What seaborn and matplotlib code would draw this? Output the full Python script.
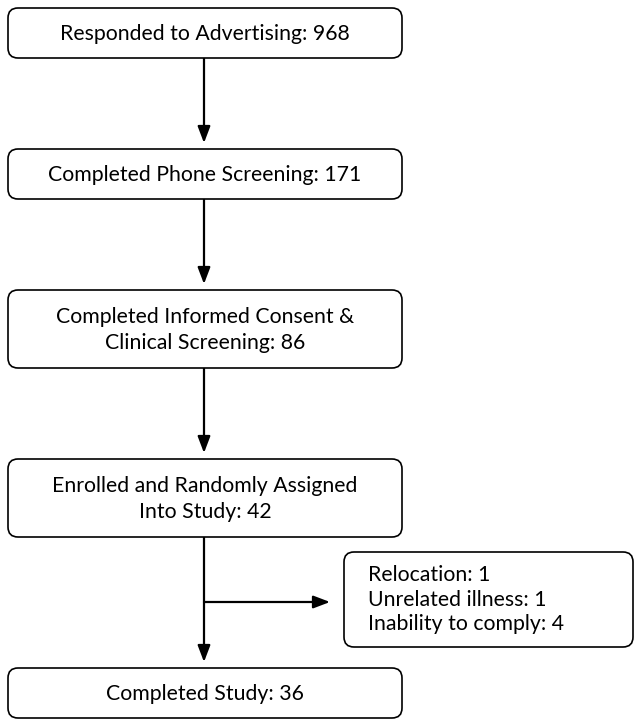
import matplotlib
matplotlib.use("Agg")
import matplotlib.pyplot as plt
import seaborn as sns
from matplotlib.patches import FancyBboxPatch, FancyArrowPatch

# ---- data ----
stage_labels = [
    "Responded to Advertising",
    "Completed Phone Screening",
    "Completed Informed Consent &\nClinical Screening",
    "Enrolled and Randomly Assigned\nInto Study",
    "Completed Study",
]
stage_counts = [968, 171, 86, 42, 36]
exclusion_reasons = ["Relocation", "Unrelated illness", "Inability to comply"]
exclusion_counts = [1, 1, 4]

# ---- layout (pixel coordinates) ----
box_x0, box_x1 = 8, 402
box_tops = [8, 149, 290, 459, 668]
box_bottoms = [58, 199, 368, 537, 718]
side_box = (344, 552, 633, 647)  # x0, y0, x1, y1
branch_y = 602

sns.set_theme(style="white")
plt.rcParams["font.family"] = ["Lato", "DejaVu Sans"]

fig = plt.figure(figsize=(6.34, 7.2), dpi=100)
ax = fig.add_axes([0, 0, 1, 1])
ax.set_xlim(0, 634)
ax.set_ylim(720, 0)
ax.axis("off")

fs = 16.0
texts = []


def rbox(x0, y0, x1, y1):
    p = FancyBboxPatch((x0, y0), x1 - x0, y1 - y0,
                       boxstyle="round,pad=0,rounding_size=10",
                       fc="white", ec="black", lw=1.2, zorder=2)
    ax.add_patch(p)


def arrow(p0, p1):
    a = FancyArrowPatch(p0, p1, arrowstyle="-|>,head_length=1.0,head_width=0.38",
                        mutation_scale=10, lw=1.6, color="black",
                        shrinkA=0, shrinkB=0, zorder=1)
    ax.add_patch(a)


cx = (box_x0 + box_x1) / 2 - 1
for lab, cnt, t, b in zip(stage_labels, stage_counts, box_tops, box_bottoms):
    rbox(box_x0, t, box_x1, b)
    txt = ax.text(cx + 1, (t + b) / 2 + 1, f"{lab}: {cnt}", ha="center", va="center",
                  fontsize=fs, linespacing=1.32, color="black", zorder=3)
    texts.append(txt)

for i in range(len(box_tops) - 1):
    arrow((cx, box_bottoms[i]), (cx, box_tops[i + 1] - 6))

arrow((cx, branch_y), (side_box[0] - 14, branch_y))

rbox(*side_box)
side_txt = ax.text(368, (side_box[1] + side_box[3]) / 2,
                   "\n".join(f"{r}: {c}" for r, c in zip(exclusion_reasons, exclusion_counts)),
                   ha="left", va="center", fontsize=fs, linespacing=1.3,
                   color="black", zorder=3)
texts.append(side_txt)

# fit font size so the first label has the reference width (~290 px)
fig.canvas.draw()
r = fig.canvas.get_renderer()
w = texts[0].get_window_extent(r).width
scale = 290.0 / w
for t in texts:
    t.set_fontsize(fs * scale)

fig.savefig("out.png", dpi=100, facecolor="white")
